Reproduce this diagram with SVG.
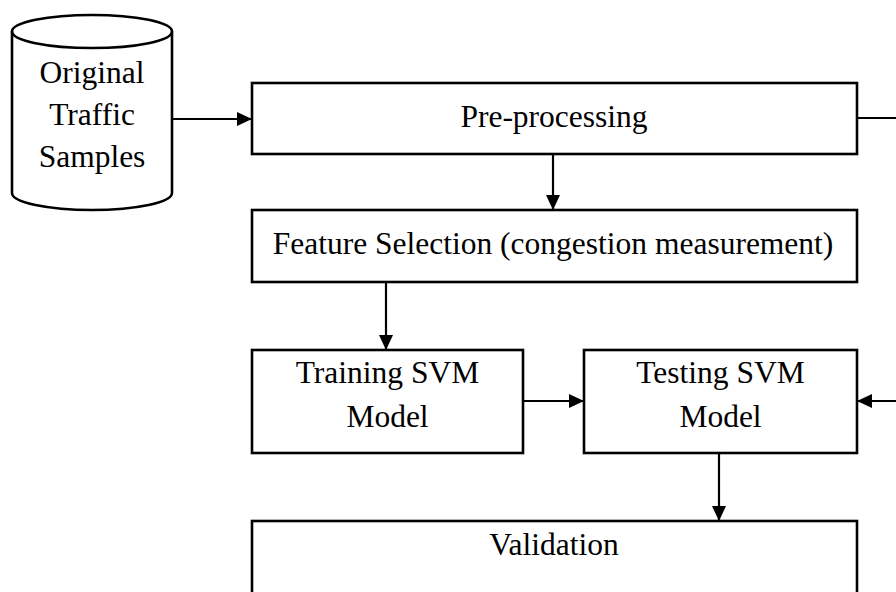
<svg xmlns="http://www.w3.org/2000/svg" width="896" height="592" viewBox="0 0 896 592">
<style>
.box{fill:#fff;stroke:#000;stroke-width:2.6}
.t{font-family:"Liberation Serif","Times New Roman",serif;font-size:31.5px;fill:#000;text-anchor:middle}
.c{fill:none;stroke:#000;stroke-width:2.2}
</style>
<defs>
<marker id="ah" markerUnits="userSpaceOnUse" markerWidth="16" markerHeight="15" refX="15" refY="7" orient="auto">
<path d="M0,0 L15,7 L0,14 z" fill="#000"/>
</marker>
</defs>
<rect width="896" height="592" fill="#fff"/>
<g id="connectors">
<line class="c" x1="173" y1="119" x2="252" y2="119" marker-end="url(#ah)"/>
<line class="c" x1="553" y1="155" x2="553" y2="210" marker-end="url(#ah)"/>
<line class="c" x1="857" y1="118" x2="900" y2="118"/>
<line class="c" x1="386" y1="283" x2="386" y2="350" marker-end="url(#ah)"/>
<line class="c" x1="524" y1="401" x2="584" y2="401" marker-end="url(#ah)"/>
<line class="c" x1="900" y1="401" x2="857" y2="401" marker-end="url(#ah)"/>
<line class="c" x1="719" y1="454" x2="719" y2="521" marker-end="url(#ah)"/>
</g>
<g id="original-traffic-samples">
<path class="box" d="M12,31.5 L12,193 A80,17 0 0 0 172,193 L172,31.5 A80,16.5 0 0 0 12,31.5 Z"/>
<path class="box" style="fill:none" d="M12,31.5 A80,16.5 0 0 0 172,31.5"/>
<text class="t" x="92" y="83">Original</text>
<text class="t" x="92" y="125">Traffic</text>
<text class="t" x="92" y="167">Samples</text>
</g>
<g id="pre-processing">
<rect class="box" x="252" y="83" width="605" height="71"/>
<text class="t" x="554" y="127">Pre-processing</text>
</g>
<g id="feature-selection">
<rect class="box" x="252" y="210" width="605" height="72"/>
<text class="t" x="553" y="254">Feature Selection (congestion measurement)</text>
</g>
<g id="training-svm">
<rect class="box" x="252" y="350" width="271" height="103"/>
<text class="t" x="387.5" y="383">Training SVM</text>
<text class="t" x="387.5" y="427">Model</text>
</g>
<g id="testing-svm">
<rect class="box" x="584" y="350" width="273" height="103"/>
<text class="t" x="720.5" y="383">Testing SVM</text>
<text class="t" x="720.5" y="427">Model</text>
</g>
<g id="validation">
<rect class="box" x="252" y="521" width="605" height="90"/>
<text class="t" x="554" y="555">Validation</text>
</g>
</svg>
